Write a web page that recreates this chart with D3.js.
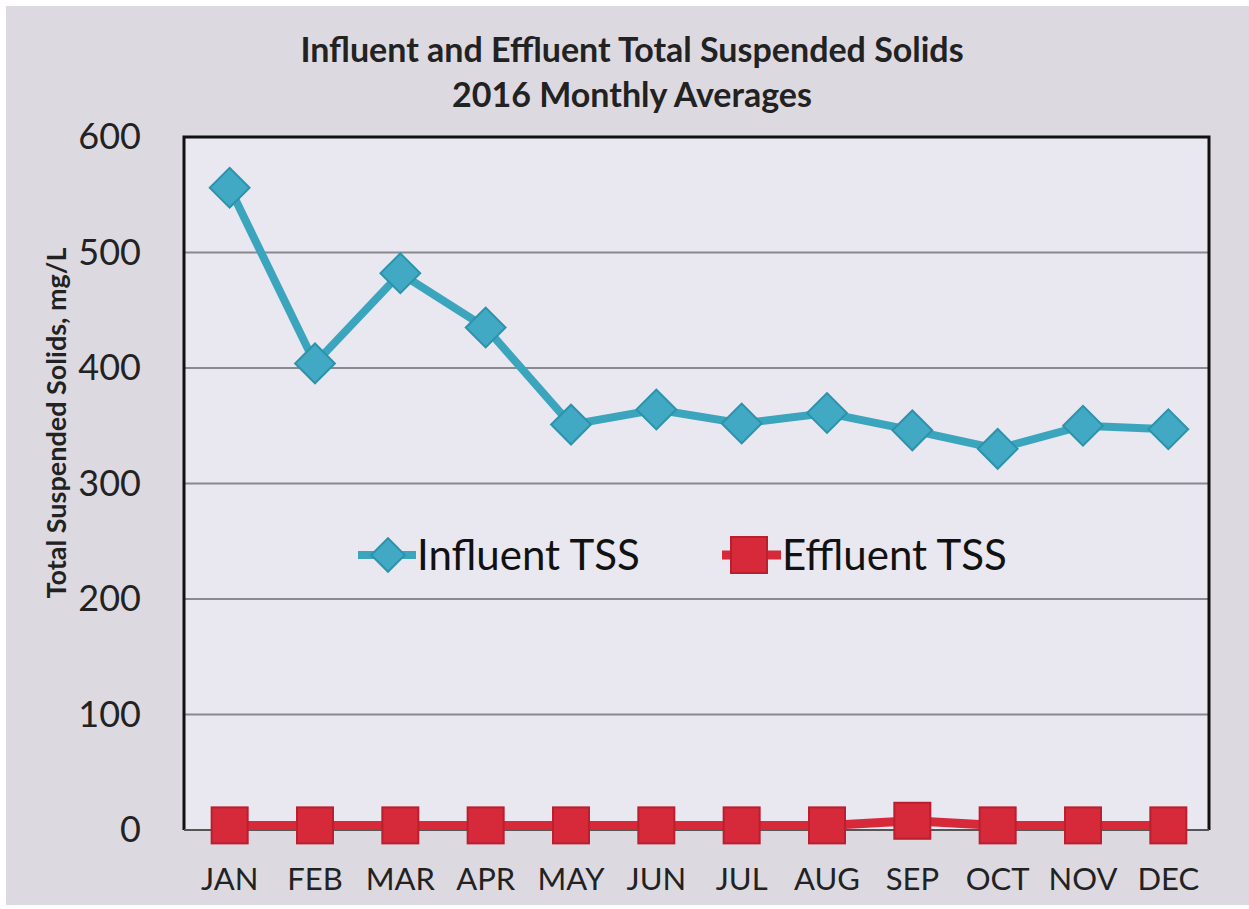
<!DOCTYPE html>
<html><head><meta charset="utf-8">
<script src="https://cdn.jsdelivr.net/npm/d3@7"></script>
<style>body{margin:0;background:#fff;} svg{display:block;}</style>
</head><body>
<svg id="c" width="1249" height="909"></svg>
<script>
const months = ["JAN","FEB","MAR","APR","MAY","JUN","JUL","AUG","SEP","OCT","NOV","DEC"];
const influentTSS = [556, 404, 482, 435, 351, 364, 352, 361, 346, 330, 350, 347];
const effluentTSS = [4, 4, 4, 4, 4, 4, 4, 4, 8, 4, 4, 4];
const yTicks = [0, 100, 200, 300, 400, 500, 600];
const titleLines = ["Influent and Effluent Total Suspended Solids", "2016 Monthly Averages"];
const seriesNames = ["Influent TSS", "Effluent TSS"];

const svg = d3.select("#c");
const W = 1249, H = 909;
const m = {left: 184, top: 137, right: 1209, bottom: 830};
const font = "Lato, 'Open Sans', sans-serif";

svg.append("rect").attr("x", 6).attr("y", 6).attr("width", W - 6).attr("height", H - 10).attr("fill", "#ddd9e1");
svg.append("rect").attr("x", m.left).attr("y", m.top).attr("width", m.right - m.left).attr("height", m.bottom - m.top).attr("fill", "#e9e7ef");

const x = d3.scaleBand().domain(months).range([m.left + 3, m.right + 2]);
const y = d3.scaleLinear().domain([0, 600]).range([m.bottom, m.top]);

// gridlines
svg.append("g").selectAll("line").data(yTicks.filter(d => d > 0 && d < 600)).join("line")
  .attr("x1", m.left).attr("x2", m.right).attr("y1", d => y(d)).attr("y2", d => y(d))
  .attr("stroke", "#8a8a8e").attr("stroke-width", 2);

// frame
svg.append("path").attr("d", `M${m.left},${m.bottom} V${m.top} H${m.right} V${m.bottom}`)
  .attr("fill", "none").attr("stroke", "#111").attr("stroke-width", 3);
svg.append("line").attr("x1", m.left).attr("x2", m.right).attr("y1", m.bottom).attr("y2", m.bottom)
  .attr("stroke", "#555").attr("stroke-width", 2);

// y axis
const yAxis = d3.axisLeft(y).tickValues(yTicks).tickSize(0).tickPadding(43);
const yg = svg.append("g").attr("transform", `translate(${m.left},0)`).call(yAxis);
yg.select(".domain").remove();
yg.selectAll("text").attr("font-family", font).attr("font-size", 36).attr("fill", "#222");

// x axis
const xAxis = d3.axisBottom(x).tickSize(0).tickPadding(0);
const xg = svg.append("g").attr("transform", `translate(0,${m.bottom})`).call(xAxis);
xg.select(".domain").remove();
xg.selectAll("text").attr("font-family", font).attr("font-size", 31).attr("fill", "#222")
  .attr("dy", null).attr("y", 60);

// title
svg.append("g").selectAll("text").data(titleLines).join("text")
  .attr("x", 632).attr("y", (d, i) => 62 + i * 45).attr("text-anchor", "middle")
  .attr("font-family", font).attr("font-weight", "bold").attr("font-size", 34).attr("fill", "#222")
  .text(d => d);

// y title
svg.append("text").attr("transform", "translate(66,423) rotate(-90)").attr("text-anchor", "middle")
  .attr("font-family", font).attr("font-weight", "bold").attr("font-size", 27).attr("fill", "#222")
  .text("Total Suspended Solids, mg/L");

const cx = d => x(d) + x.bandwidth() / 2;
const line = d3.line().x(d => cx(d.m)).y(d => y(d.v));
const infl = months.map((mm, i) => ({m: mm, v: influentTSS[i]}));
const effl = months.map((mm, i) => ({m: mm, v: effluentTSS[i]}));

const teal = "#3aa5bd", tealDark = "#2b93ab", red = "#d62a3a", redDark = "#b91f2e";
const diamondPath = d3.symbol().type(d3.symbolSquare).size(790);

svg.append("path").datum(infl).attr("d", line).attr("fill", "none").attr("stroke", teal).attr("stroke-width", 8);
svg.append("g").selectAll("path").data(infl).join("path")
  .attr("transform", d => `translate(${cx(d.m)},${y(d.v)}) rotate(45)`)
  .attr("d", diamondPath)
  .attr("fill", "#41a9c4").attr("stroke", tealDark).attr("stroke-width", 2);

svg.append("path").datum(effl).attr("d", line).attr("fill", "none").attr("stroke", red).attr("stroke-width", 9);
svg.append("g").selectAll("rect").data(effl).join("rect")
  .attr("x", d => cx(d.m) - 18).attr("y", d => y(d.v) - 18).attr("width", 36).attr("height", 36)
  .attr("fill", red).attr("stroke", redDark).attr("stroke-width", 2);

// legend
const lg = svg.append("g");
const legY = 555;
lg.append("line").attr("x1", 358).attr("x2", 416).attr("y1", legY).attr("y2", legY).attr("stroke", teal).attr("stroke-width", 8);
lg.append("path").attr("transform", `translate(388,${legY}) rotate(45)`).attr("d", d3.symbol().type(d3.symbolSquare).size(560))
  .attr("fill", "#41a9c4").attr("stroke", tealDark).attr("stroke-width", 2);
lg.append("text").attr("x", 417).attr("y", 570).attr("font-family", font).attr("font-size", 42).attr("fill", "#111").text(seriesNames[0]);
lg.append("line").attr("x1", 722).attr("x2", 781).attr("y1", legY).attr("y2", legY).attr("stroke", red).attr("stroke-width", 9);
lg.append("rect").attr("x", 749 - 18).attr("y", legY - 18).attr("width", 36).attr("height", 36)
  .attr("fill", red).attr("stroke", redDark).attr("stroke-width", 2);
lg.append("text").attr("x", 782).attr("y", 570).attr("font-family", font).attr("font-size", 42).attr("fill", "#111").text(seriesNames[1]);
</script>
</body></html>
